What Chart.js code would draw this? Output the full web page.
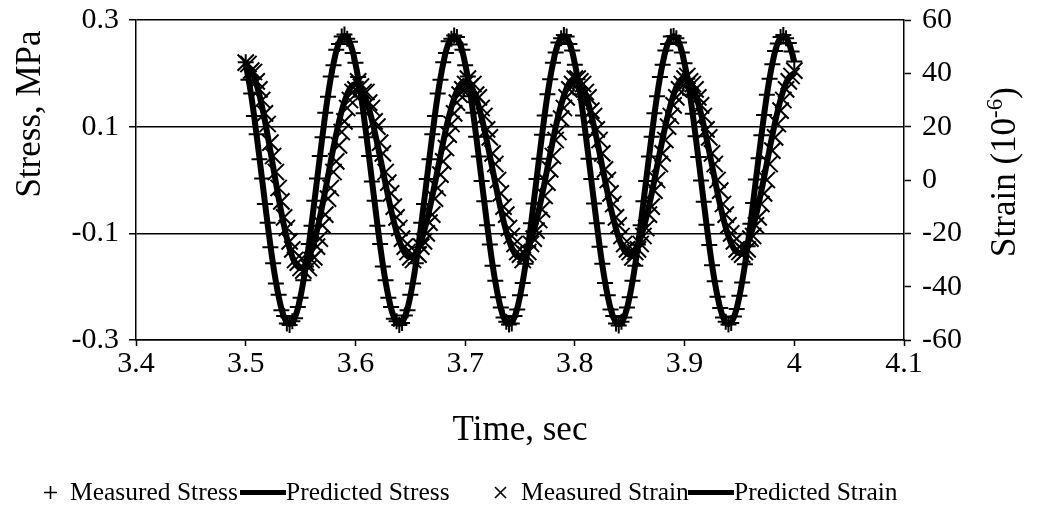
<!DOCTYPE html>
<html>
<head>
<meta charset="utf-8">
<script src="https://cdn.jsdelivr.net/npm/chart.js@4.4.1/dist/chart.umd.min.js"></script>
<style>
  body { margin: 0; background: #fff; }
  #wrap { position: relative; width: 1038px; height: 512px; }
  .legend { position: absolute; left: 0; top: 476px; width: 1038px; height: 32px;
            font: 25.5px "Liberation Serif", "Times New Roman", serif; color: #000; }
  .legend span { position: absolute; top: 0; line-height: 32px; white-space: nowrap; }
  .legend .swatch { top: 14px; height: 5px; background: #000; }
  .legend svg { position: absolute; top: 9px; }
</style>
</head>
<body>
<div id="wrap">
  <canvas id="stressChart" width="1038" height="512"></canvas>
  <div class="legend">
    <svg style="left:43px" width="15" height="15"><path d="M7.5 1V14M1 7.5H14" stroke="#000" stroke-width="1.6"/></svg>
    <span style="left:70px">Measured Stress</span>
    <span class="swatch" style="left:240px;width:46px"></span>
    <span style="left:286px">Predicted Stress</span>
    <svg style="left:493px" width="15" height="15"><path d="M2 2L13 13M13 2L2 13" stroke="#000" stroke-width="1.6"/></svg>
    <span style="left:521px">Measured Strain</span>
    <span class="swatch" style="left:688px;width:46px"></span>
    <span style="left:734px">Predicted Strain</span>
  </div>
</div>
<script>
// sampling grid (sec)
const sampleStart = 3.5;
const measuredStep = 0.0025;
const modelStep = 0.005;

const timeTicks = [3.4, 3.5, 3.6, 3.7, 3.8, 3.9, 4.0, 4.1];
const stressTicks = [-0.3, -0.1, 0.1, 0.3];
const strainTicks = [-60, -40, -20, 0, 20, 40, 60];

// measured stress, MPa (every 0.0025 s)
const measuredStress = [
  0.221, 0.188, 0.162, 0.120, 0.086, 0.039, 0.003, -0.045, -0.080, -0.126,
  -0.156, -0.194, -0.215, -0.244, -0.255, -0.269, -0.272, -0.265, -0.259, -0.238,
  -0.221, -0.188, -0.162, -0.120, -0.086, -0.039, 0.003, 0.045, 0.080, 0.126,
  0.156, 0.194, 0.215, 0.244, 0.255, 0.269, 0.273, 0.265, 0.259, 0.238,
  0.220, 0.193, 0.156, 0.125, 0.080, 0.045, -0.003, -0.039, -0.086, -0.120,
  -0.162, -0.188, -0.221, -0.238, -0.260, -0.265, -0.272, -0.268, -0.254, -0.244,
  -0.215, -0.194, -0.156, -0.126, -0.080, -0.045, 0.002, 0.039, 0.086, 0.120,
  0.162, 0.188, 0.221, 0.238, 0.260, 0.265, 0.271, 0.268, 0.254, 0.244,
  0.215, 0.194, 0.157, 0.126, 0.081, 0.044, -0.002, -0.040, -0.085, -0.121,
  -0.161, -0.189, -0.220, -0.239, -0.258, -0.266, -0.271, -0.269, -0.255, -0.243,
  -0.216, -0.193, -0.157, -0.125, -0.081, -0.044, 0.002, 0.040, 0.085, 0.121,
  0.161, 0.189, 0.220, 0.239, 0.258, 0.266, 0.272, 0.269, 0.255, 0.243,
  0.216, 0.189, 0.161, 0.121, 0.085, 0.040, 0.002, -0.044, -0.081, -0.125,
  -0.157, -0.193, -0.216, -0.243, -0.255, -0.269, -0.273, -0.266, -0.258, -0.239,
  -0.220, -0.189, -0.161, -0.121, -0.085, -0.040, -0.002, 0.044, 0.081, 0.125,
  0.157, 0.193, 0.216, 0.243, 0.255, 0.269, 0.270, 0.266, 0.258, 0.239,
  0.219, 0.190, 0.160, 0.124, 0.082, 0.043, -0.001, -0.041, -0.084, -0.122,
  -0.160, -0.190, -0.219, -0.240, -0.258, -0.266, -0.271, -0.268, -0.256, -0.242,
  -0.217, -0.192, -0.158, -0.124, -0.082, -0.043, 0.001, 0.041, 0.084, 0.122,
  0.160, 0.190, 0.217, 0.242, 0.256, 0.268, 0.272, 0.266, 0.257, 0.241,
  0.222
];

// predicted stress, MPa (every 0.005 s)
const predictedStress = [
  0.218, 0.159, 0.083, 0, -0.083, -0.159, -0.218, -0.257, -0.270, -0.257,
  -0.218, -0.159, -0.083, 0, 0.083, 0.159, 0.218, 0.257, 0.270, 0.257,
  0.218, 0.159, 0.083, 0, -0.083, -0.159, -0.218, -0.257, -0.270, -0.257,
  -0.218, -0.159, -0.083, 0, 0.083, 0.159, 0.218, 0.257, 0.270, 0.257,
  0.218, 0.159, 0.083, 0, -0.083, -0.159, -0.218, -0.257, -0.270, -0.257,
  -0.218, -0.159, -0.083, 0, 0.083, 0.159, 0.218, 0.257, 0.270, 0.257,
  0.218, 0.159, 0.083, 0, -0.083, -0.159, -0.218, -0.257, -0.270, -0.257,
  -0.218, -0.159, -0.083, 0, 0.083, 0.159, 0.218, 0.257, 0.270, 0.257,
  0.218, 0.159, 0.083, 0, -0.083, -0.159, -0.218, -0.257, -0.270, -0.257,
  -0.218, -0.159, -0.083, 0, 0.083, 0.159, 0.218, 0.257, 0.270, 0.257,
  0.222
];

// measured strain, 10^-6 (every 0.0025 s)
const measuredStrain = [
  44, 43.5, 41, 40.5, 37, 34, 30, 25, 21, 14, 9, 3, -3, -8, -14, -18, -23, -26, -30, -31,
  -33, -34, -31, -33, -30, -29, -25, -22, -17, -13, -7, -3, 3, 7, 13, 18, 22, 27, 30, 33,
  34, 37, 35, 33, 33, 29, 27, 22, 20, 14, 10, 3, -1, -5, -10, -14, -18, -22, -25, -27,
  -29, -30, -27, -28, -25, -23, -20, -16, -13, -7, -3, 2, 7, 12, 17, 21, 25, 29, 32, 34,
  36, 38, 35, 36, 32, 31, 27, 24, 19, 16, 10, 6, 0, -5, -10, -13, -18, -21, -24, -27,
  -28, -30, -28, -27, -24, -22, -19, -15, -11, -6, -1, 4, 9, 15, 18, 23, 27, 31, 34, 36,
  38, 38, 37, 36, 33, 31, 26, 24, 19, 15, 10, 4, 0, -5, -9, -14, -17, -21, -24, -26,
  -27, -29, -27, -26, -24, -21, -18, -13, -10, -4, 0, 6, 10, 15, 20, 24, 28, 31, 34, 36,
  38, 39, 37, 36, 34, 31, 28, 24, 19, 16, 10, 6, 0, -4, -9, -13, -17, -20, -23, -26,
  -27, -28, -27, -26, -22, -21, -17, -14, -9, -5, 0, 6, 11, 16, 21, 26, 30, 34, 37, 39,
  41
];

// predicted strain, 10^-6 (every 0.005 s)
const predictedStrain = [
  43, 41.1, 35.7, 27.3, 16.7, 5, -6.7, -17.3, -25.7, -31.1,
  -33, -31.3, -26.4, -18.8, -9.2, 1.5, 12.2, 21.8, 29.4, 34.3,
  36, 34.4, 29.8, 22.6, 13.5, 3.5, -6.5, -15.6, -22.8, -27.4,
  -29, -27.4, -22.7, -15.4, -6.2, 4, 14.2, 23.4, 30.7, 35.4,
  37, 35.4, 30.7, 23.4, 14.2, 4, -6.2, -15.4, -22.7, -27.4,
  -29, -27.4, -22.6, -15.2, -5.9, 4.5, 14.9, 24.2, 31.6, 36.4,
  38, 36.4, 31.7, 24.4, 15.2, 5, -5.2, -14.4, -21.7, -26.4,
  -28, -26.4, -21.7, -14.3, -5.1, 5.2, 15.4, 24.6, 32.0, 36.7,
  38.3, 36.7, 32.0, 24.8, 15.6, 5.5, -4.7, -13.9, -21.1, -25.8,
  -27.4, -25.8, -21.0, -13.5, -4.1, 6.3, 16.7, 26.1, 33.6, 38.4,
  40
];

function toPoints(values, step) {
  return values.map(function (v, i) {
    return { x: sampleStart + i * step, y: v };
  });
}

var serif = '"Liberation Serif", "Times New Roman", serif';

// keep the plot box where the original has it (no extra room for half tick labels)
function noEdgePadding(s) {
  s.paddingTop = 0;
  s.paddingBottom = 0;
}

// both axis titles read bottom-to-top; the right one has a superscript
var axisTitles = {
  id: 'axisTitles',
  afterDraw: function (chart) {
    var ctx = chart.ctx;
    var area = chart.chartArea;
    var main = '35px ' + serif, small = '23px ' + serif;
    ctx.save();
    ctx.fillStyle = '#000';
    ctx.textBaseline = 'middle';

    ctx.save();
    ctx.translate(31, area.top + 94);
    ctx.rotate(-Math.PI / 2);
    ctx.font = main;
    ctx.textAlign = 'center';
    ctx.fillText('Stress, MPa', 0, 0);
    ctx.restore();

    ctx.save();
    ctx.translate(chart.width - 32, area.top + 152);
    ctx.rotate(-Math.PI / 2);
    ctx.font = main;
    var wa = ctx.measureText('Strain (10').width;
    var wc = ctx.measureText(')').width;
    ctx.font = small;
    var wb = ctx.measureText('-6').width;
    var x = -(wa + wb + wc) / 2;
    ctx.font = main;
    ctx.fillText('Strain (10', x, 0);
    ctx.font = small;
    ctx.fillText('-6', x + wa, -10);
    ctx.font = main;
    ctx.fillText(')', x + wa + wb, 0);
    ctx.restore();

    ctx.restore();
  }
};

document.addEventListener('DOMContentLoaded', function () {
  var el = document.getElementById('stressChart');

  new Chart(el, {
    type: 'line',
    data: {
      datasets: [{
        label: 'Measured Stress',
        data: toPoints(measuredStress, measuredStep),
        yAxisID: 'y',
        showLine: false,
        pointStyle: 'cross',
        pointRadius: 8,
        pointBorderWidth: 2,
        borderColor: '#000',
        order: 2
      }, {
        label: 'Predicted Stress',
        data: toPoints(predictedStress, modelStep),
        yAxisID: 'y',
        borderColor: '#000',
        borderWidth: 6,
        pointRadius: 0,
        tension: 0.4,
        order: 1
      }, {
        label: 'Measured Strain',
        data: toPoints(measuredStrain, measuredStep),
        yAxisID: 'y1',
        showLine: false,
        pointStyle: 'crossRot',
        pointRadius: 11.5,
        pointBorderWidth: 2,
        borderColor: '#000',
        order: 2
      }, {
        label: 'Predicted Strain',
        data: toPoints(predictedStrain, modelStep),
        yAxisID: 'y1',
        borderColor: '#000',
        borderWidth: 6,
        pointRadius: 0,
        tension: 0.4,
        order: 1
      }]
    },
    options: {
      responsive: false,
      animation: false,
      devicePixelRatio: 1,
      layout: { padding: { top: 20, left: 0, right: 0, bottom: 0 } },
      plugins: { legend: { display: false }, tooltip: { enabled: false } },
      scales: {
        x: {
          type: 'linear',
          min: 3.4,
          max: 4.1,
          afterFit: function (s) { s.height = 172; s.paddingLeft = 0; s.paddingRight = 0; },
          afterBuildTicks: function (s) { s.ticks = timeTicks.map(function (v) { return { value: v }; }); },
          grid: { drawOnChartArea: false, tickLength: 6, tickColor: '#000', tickWidth: 1.5 },
          border: { color: '#000', width: 1.5 },
          ticks: {
            color: '#000', padding: 0, maxRotation: 0,
            font: { family: serif, size: 30 },
            callback: function (v) { return String(Math.round(v * 10) / 10); }
          },
          title: {
            display: true, text: 'Time, sec', color: '#000',
            font: { family: serif, size: 35 },
            padding: { top: 0, bottom: 60 }
          }
        },
        y: {
          position: 'left',
          min: -0.3,
          max: 0.3,
          afterFit: function (s) { s.width = 136; noEdgePadding(s); },
          afterBuildTicks: function (s) { s.ticks = stressTicks.map(function (v) { return { value: v }; }); },
          grid: { color: '#000', lineWidth: 1.5, tickLength: 7, tickColor: '#000' },
          border: { color: '#000', width: 1.5 },
          ticks: {
            color: '#000', padding: 10,
            font: { family: serif, size: 30 },
            callback: function (v) { return v.toFixed(1); }
          }
        },
        y1: {
          position: 'right',
          min: -60,
          max: 60,
          afterFit: function (s) { s.width = 134; noEdgePadding(s); },
          afterBuildTicks: function (s) { s.ticks = strainTicks.map(function (v) { return { value: v }; }); },
          grid: { drawOnChartArea: false, tickLength: 7, tickColor: '#000', tickWidth: 1.5 },
          border: { color: '#000', width: 1.5 },
          ticks: {
            color: '#000', padding: 11,
            font: { family: serif, size: 30 },
            callback: function (v) { return String(v); }
          }
        }
      }
    },
    plugins: [axisTitles]
  });
});
</script>
</body>
</html>
